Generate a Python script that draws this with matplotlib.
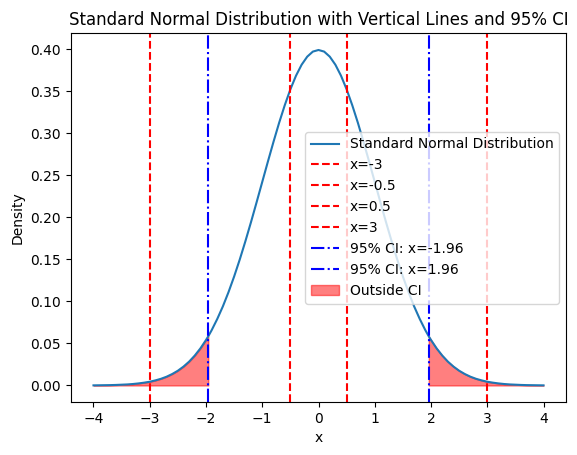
import matplotlib.pyplot as plt

# ==============================
# Data (right half; the curve is symmetric)
# ==============================
x_half = [0.0, 0.1, 0.2, 0.3, 0.4, 0.5, 0.6, 0.7, 0.8, 0.9,
          1.0, 1.1, 1.2, 1.3, 1.4, 1.5, 1.6, 1.7, 1.8, 1.9, 1.96,
          2.0, 2.1, 2.2, 2.3, 2.4, 2.5, 2.6, 2.7, 2.8, 2.9,
          3.0, 3.1, 3.2, 3.3, 3.4, 3.5, 3.6, 3.7, 3.8, 3.9, 4.0]
density_half = [0.3989, 0.3970, 0.3910, 0.3814, 0.3683, 0.3521, 0.3332, 0.3123, 0.2897, 0.2661,
                0.2420, 0.2179, 0.1942, 0.1714, 0.1497, 0.1295, 0.1109, 0.0940, 0.0790, 0.0656, 0.0584,
                0.0540, 0.0440, 0.0355, 0.0283, 0.0224, 0.0175, 0.0136, 0.0104, 0.0079, 0.0060,
                0.0044, 0.0033, 0.0024, 0.0017, 0.0012, 0.0009, 0.0006, 0.0004, 0.0003, 0.0002, 0.0001]

red_lines = [-3, -0.5, 0.5, 3]
ci_lines = [-1.96, 1.96]

x = [-v for v in x_half[:0:-1]] + x_half
density = density_half[:0:-1] + density_half

# ==============================
# Plot
# ==============================
fig = plt.figure(figsize=(5.77, 4.55), dpi=100)
plt.subplots_adjust(left=0.123, right=0.981, top=0.927, bottom=0.116)

plt.plot(x, density, label="Standard Normal Distribution")

for v in red_lines:
    plt.axvline(v, color="red", linestyle="--", label=f"x={v}")

for v in ci_lines:
    plt.axvline(v, color="blue", linestyle="-.", label=f"95% CI: x={v}")

left = [xi <= ci_lines[0] for xi in x]
right = [xi >= ci_lines[1] for xi in x]
plt.fill_between(x, density, where=left, color="red", alpha=0.5, label="Outside CI")
plt.fill_between(x, density, where=right, color="red", alpha=0.5)

plt.xlabel("x")
plt.ylabel("Density")
plt.title("Standard Normal Distribution with Vertical Lines and 95% CI")
plt.legend(loc="center right")

plt.savefig("out.png")
